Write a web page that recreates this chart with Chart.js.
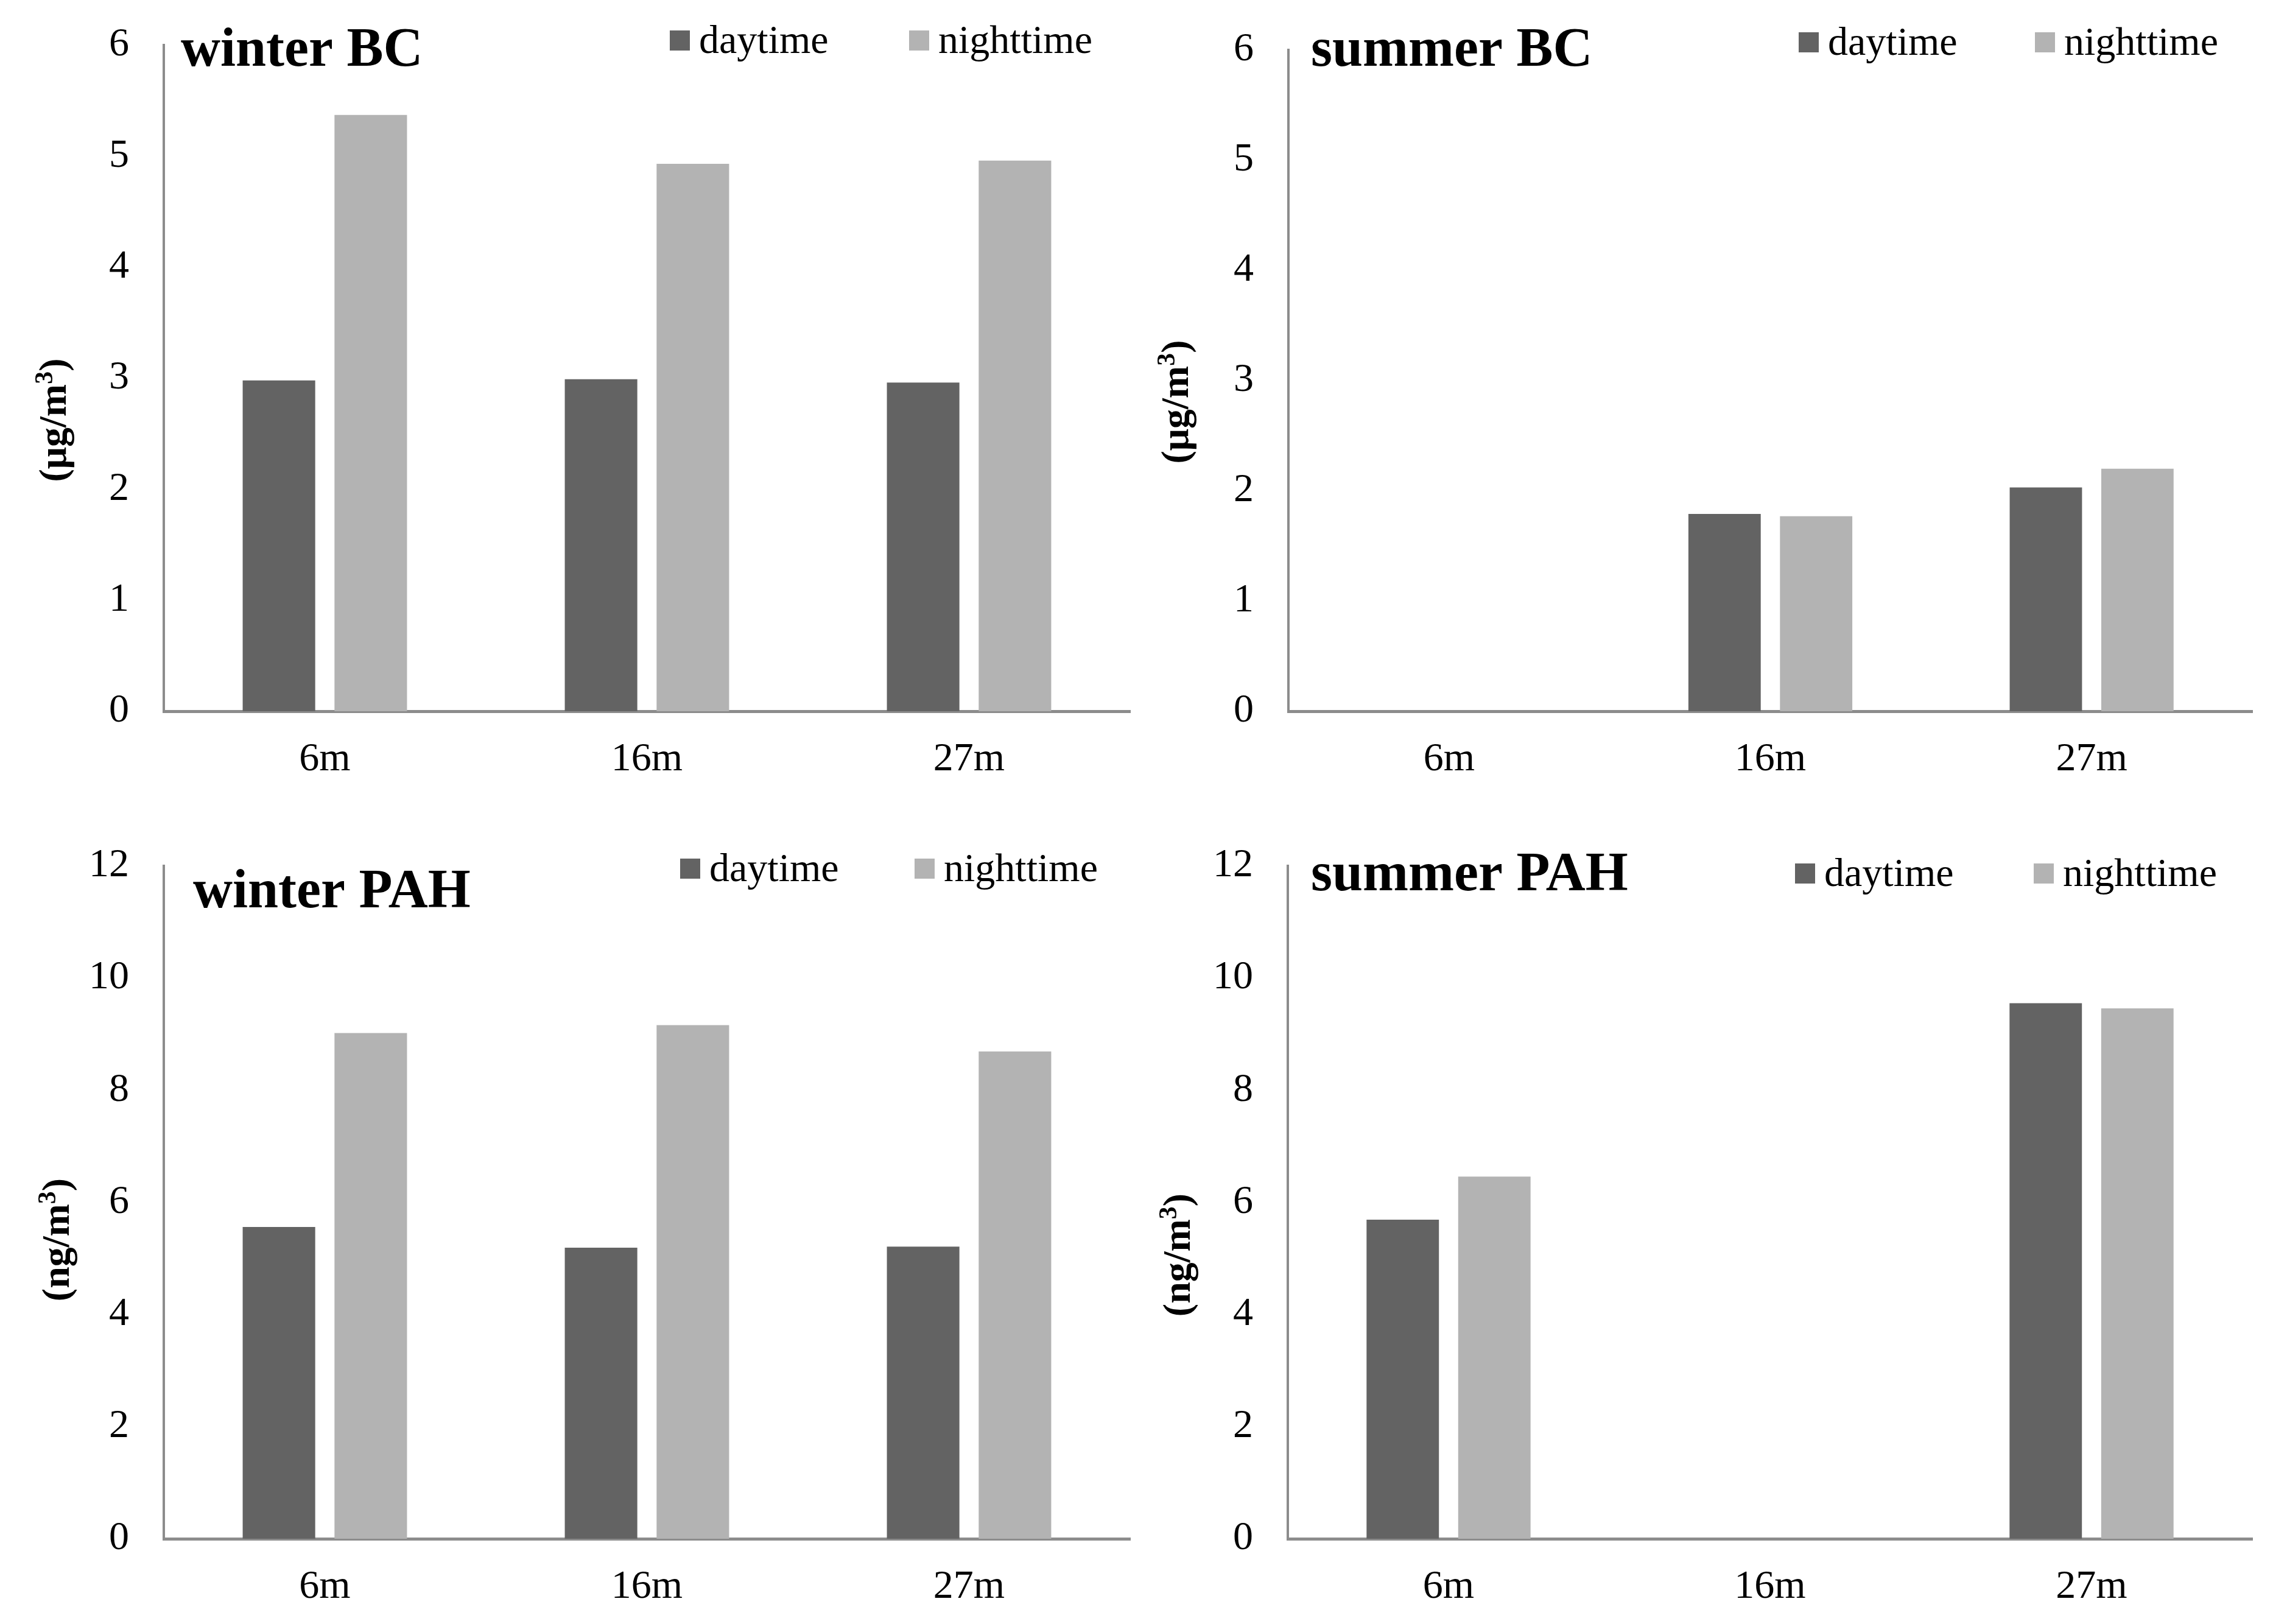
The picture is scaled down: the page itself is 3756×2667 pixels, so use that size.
<!DOCTYPE html>
<html>
<head>
<meta charset="utf-8">
<title>BC and PAH by height</title>
<script src="https://cdn.jsdelivr.net/npm/chart.js@4.4.1/dist/chart.umd.min.js"></script>
<style>
  html, body { margin: 0; padding: 0; background: #fff; }
  #wrap { position: relative; width: 3756px; height: 2667px; }
  canvas { position: absolute; }
</style>
</head>
<body>
<div id="wrap">
  <canvas id="winterBC" width="1878" height="1333" style="left:0;top:0"></canvas>
  <canvas id="summerBC" width="1878" height="1333" style="left:1878px;top:0"></canvas>
  <canvas id="winterPAH" width="1878" height="1334" style="left:0;top:1333px"></canvas>
  <canvas id="summerPAH" width="1878" height="1334" style="left:1878px;top:1333px"></canvas>
</div>
<script>
// sampling heights and series
const heights = ['6m', '16m', '27m'];
const seriesNames = ['daytime', 'nighttime'];

// BC, µg/m3 (no summer sample at 6m)
const winterBCDay   = [2.98, 2.99, 2.96];
const winterBCNight = [5.37, 4.93, 4.96];
const summerBCDay   = [null, 1.79, 2.03];
const summerBCNight = [null, 1.77, 2.20];

// PAH, ng/m3 (no summer sample at 16m)
const winterPAHDay   = [5.56, 5.19, 5.21];
const winterPAHNight = [9.02, 9.16, 8.69];
const summerPAHDay   = [5.69, null, 9.55];
const summerPAHNight = [6.46, null, 9.46];

const bcMax = 6, bcStep = 1;
const pahMax = 12, pahStep = 2;

const dayColor = '#636363';
const nightColor = '#b3b3b3';
const axisColor = '#8c8c8c';
const serif = '"Liberation Serif", "Times New Roman", serif';

// title, legend and unit label drawn onto each panel
const panelText = {
  id: 'panelText',
  afterDraw(chart, args, o) {
    const ctx = chart.ctx;
    ctx.save();
    ctx.fillStyle = '#000';
    ctx.textAlign = 'left';
    ctx.textBaseline = 'alphabetic';
    ctx.font = 'bold 90px ' + serif;
    ctx.fillText(o.title, o.titleX, o.titleY);

    ctx.font = '66px ' + serif;
    chart.data.datasets.forEach((ds, i) => {
      const x = o.legendX[i];
      ctx.fillStyle = ds.backgroundColor;
      ctx.fillRect(x, o.legendY - 37, 33, 33);
      ctx.fillStyle = '#000';
      ctx.fillText(ds.label, x + 48, o.legendY);
    });

    // unit label, rotated, with a raised "3"
    ctx.translate(o.unitX, o.unitY);
    ctx.rotate(-Math.PI / 2);
    const big = 'bold 64px ' + serif, small = 'bold 42px ' + serif;
    ctx.font = big;
    const w1 = ctx.measureText(o.unit[0]).width;
    const w3 = ctx.measureText(o.unit[2]).width;
    ctx.font = small;
    const w2 = ctx.measureText(o.unit[1]).width;
    let x = -(w1 + w2 + w3) / 2;
    const base = 22;
    ctx.font = big;
    ctx.fillText(o.unit[0], x, base);
    x += w1;
    ctx.font = small;
    ctx.fillText(o.unit[1], x, base - 22);
    x += w2;
    ctx.font = big;
    ctx.fillText(o.unit[2], x, base);
    ctx.restore();
  }
};

function panel(id, day, night, yMax, yStep, box, text) {
  new Chart(document.getElementById(id), {
    type: 'bar',
    data: {
      labels: heights,
      datasets: [
        { label: seriesNames[0], data: day, backgroundColor: dayColor },
        { label: seriesNames[1], data: night, backgroundColor: nightColor }
      ]
    },
    options: {
      responsive: false,
      animation: false,
      devicePixelRatio: 1,
      categoryPercentage: 0.57,
      barPercentage: 0.79,
      layout: { padding: { top: box.top, right: box.right, left: 0, bottom: 0 } },
      plugins: {
        legend: { display: false },
        tooltip: { enabled: false },
        panelText: text
      },
      scales: {
        x: {
          grid: { display: false, drawTicks: false },
          border: { display: true, color: axisColor, width: 5 },
          ticks: { color: '#000', font: { family: serif, size: 66 }, padding: 40 },
          afterFit: s => { s.height = box.bottom; s.paddingLeft = 0; s.paddingRight = 0; }
        },
        y: {
          min: 0,
          max: yMax,
          grid: { display: false, drawTicks: false },
          border: { display: true, color: axisColor, width: 4 },
          ticks: { stepSize: yStep, color: '#000', font: { family: serif, size: 66 }, padding: 57 },
          afterFit: s => { s.width = box.left; s.paddingTop = 0; s.paddingBottom = 0; }
        }
      }
    },
    plugins: [panelText]
  });
}

panel('winterBC', winterBCDay, winterBCNight, bcMax, bcStep,
  { left: 269, right: 22, top: 74, bottom: 165 },
  { title: 'winter BC', titleX: 297, titleY: 108, legendX: [1100, 1493], legendY: 87,
    unit: ['(μg/m', '3', ')'], unitX: 86, unitY: 690 });

panel('summerBC', summerBCDay, summerBCNight, bcMax, bcStep,
  { left: 238, right: 57, top: 82, bottom: 165 },
  { title: 'summer BC', titleX: 275, titleY: 108, legendX: [1076, 1464], legendY: 90,
    unit: ['(μg/m', '3', ')'], unitX: 51, unitY: 660 });

panel('winterPAH', winterPAHDay, winterPAHNight, pahMax, pahStep,
  { left: 269, right: 22, top: 89, bottom: 140 },
  { title: 'winter PAH', titleX: 317, titleY: 157, legendX: [1117, 1502], legendY: 114,
    unit: ['(ng/m', '3', ')'], unitX: 91, unitY: 703 });

panel('summerPAH', summerPAHDay, summerPAHNight, pahMax, pahStep,
  { left: 237, right: 57, top: 89, bottom: 140 },
  { title: 'summer PAH', titleX: 275, titleY: 129, legendX: [1070, 1462], legendY: 122,
    unit: ['(ng/m', '3', ')'], unitX: 54, unitY: 728 });
</script>
</body>
</html>
